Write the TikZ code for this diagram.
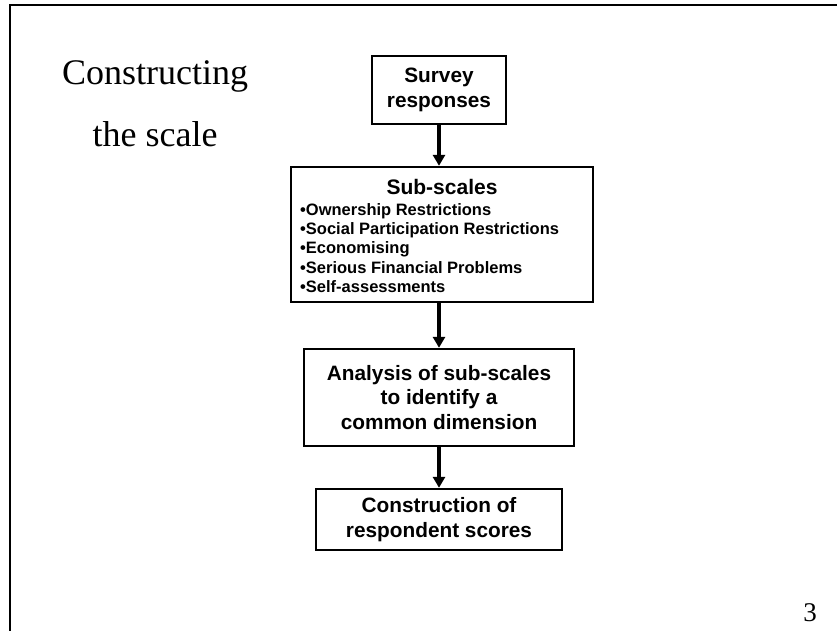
\documentclass[tikz,border=0pt]{standalone}
\usepackage{fontspec}
\setmainfont{Liberation Serif}
\setsansfont{Liberation Sans}
\usetikzlibrary{arrows.meta}
\begin{document}
\begin{tikzpicture}[x=1pt,y=-1pt,
  box/.style={draw=black,line width=2.4pt,fill=white,inner sep=0pt},
  boxtext/.style={font=\sffamily\bfseries\fontsize{20.8}{24.5}\selectfont,align=center,inner sep=0pt},
  flow/.style={line width=3.4pt,-{Triangle[length=11pt,width=12pt]}},
  frame/.style={draw=black,line width=1.6pt}]
\useasboundingbox (0,0) rectangle (837,631);
\draw[frame] (10,640) -- (10,5) -- (845,5);
% title
\node[font=\fontsize{36}{62}\selectfont,align=center,inner sep=0pt] (title) at (155,104) {Constructing\\the scale};
% boxes
\node[box,minimum width=134pt,minimum height=68pt] (survey) at (439,90) {};
\node[boxtext] (surveyt) at (survey.center) {Survey\\responses};
\node[box,minimum width=302pt,minimum height=135pt] (sub) at (442,234.5) {};
\node[font=\sffamily\bfseries\fontsize{21}{24}\selectfont,inner sep=0pt] (subt) at (442,187) {Sub-scales};
\node[font=\sffamily\bfseries\fontsize{16.5}{19.3}\selectfont,align=left,anchor=north west,inner sep=0pt] (subl) at (300,203)
 {\textbullet Ownership Restrictions\\\textbullet Social Participation Restrictions\\\textbullet Economising\\\textbullet Serious Financial Problems\\\textbullet Self-assessments};
\node[box,minimum width=270pt,minimum height=97pt] (anal) at (439,397.5) {};
\node[boxtext] (analt) at (anal.center) {Analysis of sub-scales\\to identify a\\common dimension};
\node[box,minimum width=246pt,minimum height=61pt] (cons) at (439,519.5) {};
\node[boxtext] (const) at (cons.center) {Construction of\\respondent scores};
% arrows
\draw[flow] (survey.south) -- (survey.south |- sub.north);
\draw[flow] (anal.north |- sub.south) -- (anal.north);
\draw[flow] (anal.south) -- (cons.north);
% page number
\node[font=\fontsize{27}{30}\selectfont,inner sep=0pt] (pg) at (810,613) {3};
\end{tikzpicture}
\end{document}
